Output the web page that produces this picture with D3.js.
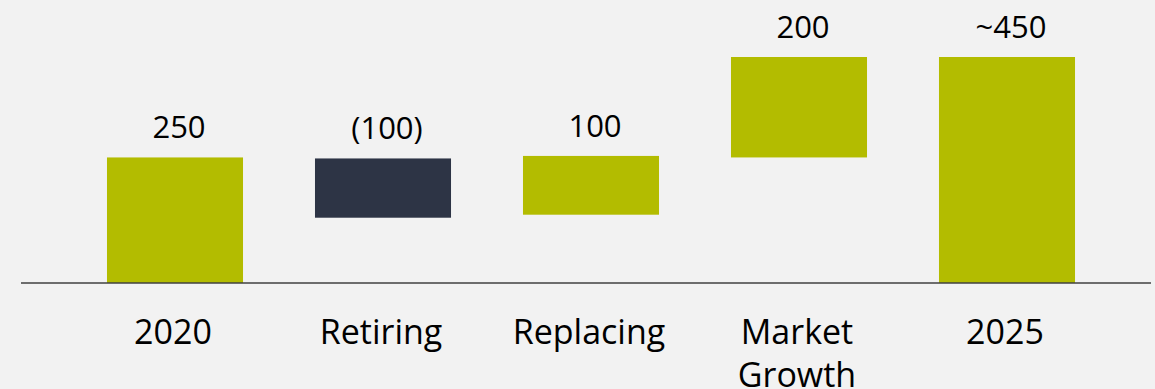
<!DOCTYPE html>
<html>
<head>
<meta charset="utf-8">
<script src="https://cdn.jsdelivr.net/npm/d3@7"></script>
<style>
  html, body { margin: 0; padding: 0; background: #f2f2f2; }
  svg { display: block; }
</style>
</head>
<body>
<svg id="chart" width="1155" height="389"></svg>
<script>
// Data
const categories = ["2020", "Retiring", "Replacing", "Market Growth", "2025"];
const barLow  = [0, 130, 136, 250, 0];     // bottom of each floating bar (units)
const barHigh = [250, 248, 253, 450, 450]; // top of each floating bar (units)
const valueLabels = ["250", "(100)", "100", "200", "~450"];
const barKind = ["up", "down", "up", "up", "total"];

const W = 1155, H = 389;
const svg = d3.select("#chart");
svg.append("rect").attr("width", W).attr("height", H).attr("fill", "#f2f2f2");

const x = d3.scaleBand()
  .domain(categories)
  .range([71, 1111])
  .paddingInner(0.346)
  .paddingOuter(0.173);

const y = d3.scaleLinear().domain([0, 450]).range([283, 57]);

const colour = d => d === "down" ? "#2d3445" : "#b3bc00";

const rows = categories.map((c, i) => ({
  cat: c, lo: barLow[i], hi: barHigh[i], label: valueLabels[i], kind: barKind[i]
}));

svg.append("g").selectAll("rect")
  .data(rows).join("rect")
  .attr("x", d => x(d.cat))
  .attr("width", x.bandwidth())
  .attr("y", d => y(Math.max(d.lo, d.hi)))
  .attr("height", d => Math.abs(y(d.lo) - y(d.hi)))
  .attr("fill", d => colour(d.kind));

// baseline
svg.append("line")
  .attr("x1", 21).attr("x2", 1151)
  .attr("y1", y(0)).attr("y2", y(0))
  .attr("stroke", "#404040").attr("stroke-width", 1.5);

const font = "'Open Sans', 'Noto Sans', sans-serif";

// value labels
svg.append("g").selectAll("text")
  .data(rows).join("text")
  .attr("x", d => x(d.cat) + x.bandwidth() / 2 + 4)
  .attr("y", d => y(Math.max(d.lo, d.hi)) - 19)
  .attr("text-anchor", "middle")
  .attr("font-family", font)
  .attr("font-size", 31)
  .attr("fill", "#000")
  .text(d => d.label);

// category labels
const cat = svg.append("g").selectAll("text")
  .data(rows).join("text")
  .attr("x", d => x(d.cat) + x.bandwidth() / 2 - 2)
  .attr("y", 344)
  .attr("text-anchor", "middle")
  .attr("font-family", font)
  .attr("font-size", 34)
  .attr("fill", "#000");

cat.each(function(d) {
  const words = d.cat === "Market Growth" ? ["Market", "Growth"] : [d.cat];
  const t = d3.select(this);
  words.forEach((w, i) => {
    t.append("tspan")
      .attr("x", x(d.cat) + x.bandwidth() / 2 - 2)
      .attr("dy", i === 0 ? 0 : 43)
      .text(w);
  });
});
</script>
</body>
</html>
